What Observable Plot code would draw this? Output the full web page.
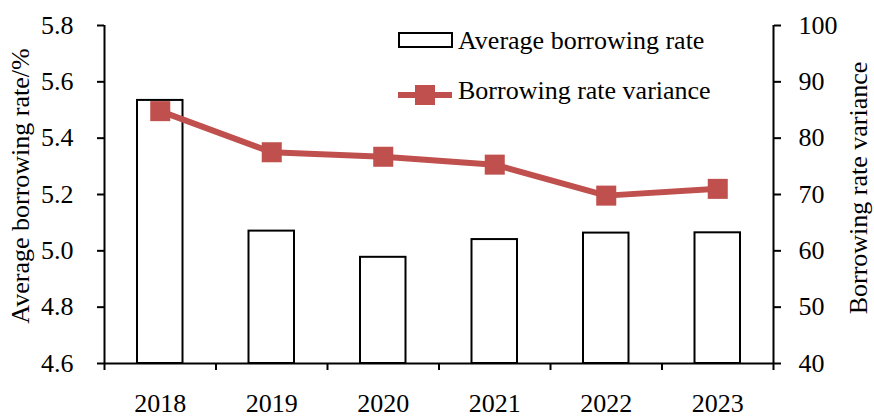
<!DOCTYPE html>
<html><head><meta charset="utf-8">
<script src="https://cdn.jsdelivr.net/npm/d3@7"></script>
<script src="https://cdn.jsdelivr.net/npm/@observablehq/plot@0.6"></script>
<style>
body{margin:0;background:#fff}
svg text{font-family:"Liberation Serif","Times New Roman",serif !important;}
</style>
</head><body><div id="chart"></div>
<script>
const years = ["2018", "2019", "2020", "2021", "2022", "2023"];
const avgRate = [5.534, 5.070, 4.977, 5.040, 5.063, 5.064];
const variance = [84.8, 77.5, 76.7, 75.3, 69.8, 71.0];
const leftTicks = [4.6, 4.8, 5.0, 5.2, 5.4, 5.6, 5.8];
const rightTicks = [40, 50, 60, 70, 80, 90, 100];
const legendLabels = ["Average borrowing rate", "Borrowing rate variance"];
const axisTitles = ["Average borrowing rate/%", "Borrowing rate variance"];

const L0 = 4.6, L1 = 5.8, R0 = 40, R1 = 100;
const toLeft = v => L0 + (v - R0) / (R1 - R0) * (L1 - L0);
const toRight = y => R0 + (y - L0) / (L1 - L0) * (R1 - R0);

const bars = years.map((yr, i) => ({i, year: yr, rate: avgRate[i]}));
const pts = years.map((yr, i) => ({x: i + 0.5, v: toLeft(variance[i])}));

const red = "#C0504D";
const font = "Liberation Serif";

const plot = Plot.plot({
  width: 874, height: 417,
  marginLeft: 104, marginRight: 101, marginTop: 25, marginBottom: 54,
  style: {fontFamily: font, fontSize: "26px", color: "#000", background: "#fff", overflow: "visible"},
  x: {domain: [0, 6], axis: null},
  y: {domain: [L0, L1], axis: null},
  marks: [
    Plot.rectY(bars, {x1: "i", x2: d => d.i + 1, y1: L0, y2: "rate", insetLeft: 33, insetRight: 33, fill: "white", stroke: "black", strokeWidth: 2}),
    Plot.ruleX([0], {stroke: "black", strokeWidth: 2}),
    Plot.ruleX([6], {stroke: "black", strokeWidth: 2}),
    Plot.ruleY([L0], {stroke: "black", strokeWidth: 2}),
    Plot.axisY({anchor: "left", ticks: leftTicks, tickFormat: d3.format(".1f"), tickSize: 7, tickPadding: 24, strokeWidth: 2,
      fontSize: 26, fontFamily: font, fontVariant: "normal", label: null}),
    Plot.axisY({anchor: "right", ticks: rightTicks.map(toLeft), tickFormat: d => String(Math.round(toRight(d))), tickSize: 7, tickPadding: 18, strokeWidth: 2,
      fontSize: 26, fontFamily: font, fontVariant: "normal", label: null}),
    Plot.axisX({ticks: d3.range(0, 7), tickFormat: () => "", tickSize: 7, strokeWidth: 2, label: null}),
    Plot.axisX({ticks: d3.range(6).map(i => i + 0.5), tickFormat: d => years[Math.floor(d)], tickSize: 0, tickPadding: 30,
      fontSize: 26, fontFamily: font, fontVariant: "normal", label: null}),
    Plot.line(pts, {x: "x", y: "v", stroke: red, strokeWidth: 6}),
    Plot.dot(pts, {x: "x", y: "v", symbol: "square", r: 11.3, fill: red, stroke: "none"})
  ]
});
document.getElementById("chart").appendChild(plot);

const svg = d3.select(plot);
// axis titles
const tg = svg.append("g").attr("font-family", font).attr("font-size", 26).attr("text-anchor", "middle").attr("fill", "black");
tg.append("text").attr("transform", "translate(29,186) rotate(-90)").text(axisTitles[0]);
tg.append("text").attr("transform", "translate(867,188) rotate(-90)").text(axisTitles[1]);

// legend
const lg = svg.append("g").attr("font-family", font).attr("font-size", 26).attr("text-anchor", "start").attr("fill", "black");
lg.append("rect").attr("x", 399).attr("y", 33).attr("width", 53).attr("height", 14)
  .attr("fill", "white").attr("stroke", "black").attr("stroke-width", 2);
lg.append("text").attr("x", 458).attr("y", 49).text(legendLabels[0]);
lg.append("line").attr("x1", 398).attr("x2", 452).attr("y1", 95).attr("y2", 95)
  .attr("stroke", red).attr("stroke-width", 6);
lg.append("rect").attr("x", 415).attr("y", 85).attr("width", 20).attr("height", 20).attr("fill", red);
lg.append("text").attr("x", 458).attr("y", 99).text(legendLabels[1]);
</script>
</body></html>
